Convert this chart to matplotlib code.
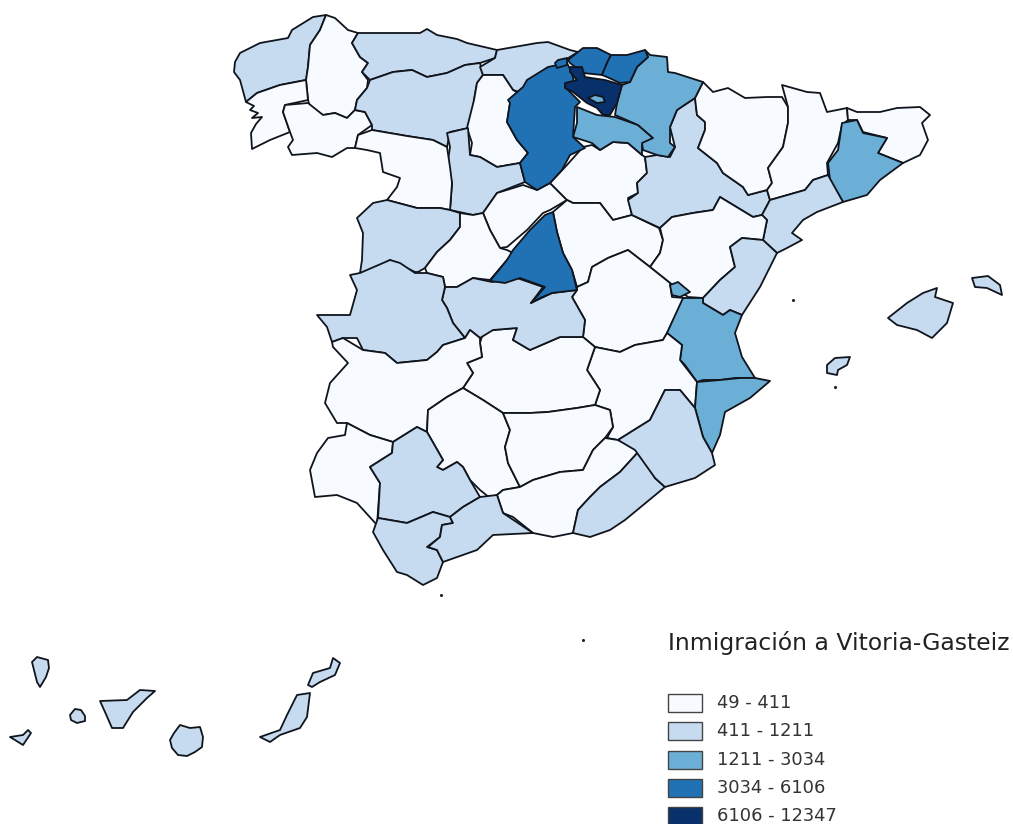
import matplotlib
matplotlib.use("Agg")
import matplotlib.pyplot as plt
from matplotlib.patches import Polygon, Rectangle

title = "Inmigración a Vitoria-Gasteiz"
bin_labels = ["49 - 411", "411 - 1211", "1211 - 3034", "3034 - 6106", "6106 - 12347"]
bin_colors = ["#f7fbff", "#c6dbef", "#6baed6", "#2171b5", "#08306b"]

# Province outlines (pixel coordinates), with their class
coruna = [(235,62),(240,53),(260,43),(288,38),(292,30),(313,17),(326,15),(320,30),(310,45),(308,67),(306,80),(280,85),(257,93),(246,102),(240,80),(234,72)]
lugo = [(326,15),(335,18),(348,30),(358,33),(352,43),(360,57),(368,63),(362,72),(368,80),(367,88),(357,100),(355,110),(347,118),(335,113),(323,115),(310,107),(308,100),(306,80),(308,67),(310,45),(320,30)]
pontevedra = [(306,80),(308,100),(285,105),(283,112),(290,132),(270,140),(252,149),(251,133),(256,124),(262,117),(252,118),(258,113),(250,110),(254,106),(246,102),(257,93),(280,85)]
ourense = [(285,105),(308,103),(323,115),(335,113),(347,118),(355,110),(365,112),(372,125),(358,135),(355,148),(347,148),(332,157),(317,153),(292,155),(288,147),(293,140),(290,132),(283,112)]
asturias = [(358,33),(393,33),(420,33),(427,29),(437,35),(457,39),(467,43),(497,50),(495,58),(480,63),(465,65),(447,73),(427,77),(412,70),(393,72),(370,80),(362,72),(368,63),(360,57),(352,43)]
leon = [(370,80),(393,72),(412,70),(427,77),(447,73),(465,65),(480,63),(483,75),(477,83),(474,100),(473,112),(469,128),(450,132),(447,147),(433,140),(407,136),(372,130),(372,125),(365,112),(355,110),(357,100),(367,88)]
cantabria = [(497,50),(537,43),(548,42),(570,50),(578,52),(557,65),(557,68),(528,80),(535,85),(522,93),(513,90),(503,75),(483,75),(480,67),(495,58)]
palencia = [(483,75),(503,75),(513,90),(522,95),(510,103),(507,122),(517,140),(528,153),(520,163),(497,167),(480,157),(470,155),(472,143),(467,128),(474,100),(477,83)]
burgos = [(508,100),(523,87),(527,80),(548,67),(567,63),(572,73),(575,87),(565,87),(580,102),(575,107),(573,137),(585,148),(570,155),(562,170),(550,183),(537,190),(525,182),(520,163),(528,153),(517,140),(507,122),(510,103)]
burgos_enclave = [(555,63),(558,60),(567,58),(567,65),(557,68)]
vizcaya = [(568,60),(583,48),(597,48),(611,55),(607,63),(602,75),(583,73),(570,63)]
gipuzkoa = [(611,55),(627,55),(645,50),(648,57),(637,67),(630,82),(620,83),(607,77),(602,75),(607,63)]
navarra = [(645,50),(650,55),(667,57),(668,72),(675,73),(703,82),(695,98),(677,110),(670,127),(670,143),(675,147),(668,157),(657,155),(643,150),(642,143),(653,138),(638,125),(615,115),(617,103),(622,85),(630,82),(637,67),(648,57)]
rioja = [(577,107),(597,115),(615,117),(638,125),(653,138),(642,145),(642,155),(628,143),(613,142),(600,150),(592,143),(573,137),(577,123)]
alava = [(570,67),(582,67),(585,77),(605,80),(622,85),(617,103),(610,115),(603,115),(597,108),(587,103),(573,92),(565,88),(565,83),(577,80),(570,72)]
trevino = [(588,98),(595,95),(603,97),(605,102),(597,103)]
soria = [(567,165),(583,147),(592,145),(600,150),(613,142),(628,143),(642,155),(645,157),(647,173),(637,183),(638,193),(628,198),(632,215),(613,220),(600,203),(585,203),(573,203),(567,200),(550,183)]
segovia = [(483,213),(497,193),(523,185),(537,190),(550,183),(567,200),(550,210),(543,213),(527,230),(507,247),(500,248),(490,230)]
valladolid = [(450,147),(447,133),(468,128),(470,155),(480,157),(497,167),(520,163),(525,182),(497,193),(483,213),(473,215),(450,210),(452,183),(447,167)]
zamora = [(358,135),(372,130),(407,136),(433,140),(447,147),(450,167),(452,183),(450,210),(440,208),(417,208),(387,200),(397,187),(400,178),(383,172),(380,153),(367,150),(355,148)]
salamanca = [(387,200),(373,203),(357,218),(363,233),(362,260),(360,273),(375,270),(390,260),(400,265),(415,272),(418,272),(425,268),(437,252),(450,240),(460,227),(460,213),(450,210),(440,208),(417,208)]
avila = [(460,213),(473,215),(483,213),(490,230),(500,248),(507,250),(513,253),(507,260),(490,280),(473,278),(457,287),(445,287),(443,277),(427,273),(425,268),(437,252),(450,240),(460,227)]
guadalajara = [(573,203),(585,203),(600,203),(613,220),(632,215),(659,228),(663,240),(660,253),(650,267),(628,250),(608,258),(592,267),(588,282),(577,287),(572,270),(563,253),(557,232),(553,212),(567,200)]
zaragoza = [(645,157),(657,155),(670,157),(675,147),(670,127),(677,110),(695,98),(697,115),(705,122),(705,130),(698,148),(717,163),(723,173),(743,187),(748,195),(767,190),(770,200),(762,215),(753,217),(720,197),(713,210),(693,213),(672,217),(660,228),(632,215),(628,200),(638,193),(637,183),(647,173)]
huesca = [(703,82),(713,92),(728,88),(745,98),(767,97),(782,97),(788,107),(788,123),(783,147),(768,168),(772,183),(767,190),(748,195),(743,187),(723,173),(717,163),(698,148),(705,130),(705,122),(697,115),(695,98)]
lleida = [(782,85),(807,92),(820,93),(827,112),(847,108),(848,120),(842,125),(838,143),(827,163),(828,175),(813,180),(805,190),(770,200),(767,190),(772,183),(768,168),(783,147),(788,123),(788,107)]
girona = [(847,108),(857,112),(880,112),(897,108),(920,107),(930,115),(922,123),(928,140),(920,155),(903,163),(878,153),(887,138),(863,132),(857,120),(848,120)]
barcelona = [(842,123),(857,120),(863,133),(887,138),(878,153),(903,163),(880,180),(867,195),(843,202),(830,180),(828,163),(838,150)]
tarragona = [(828,175),(843,202),(817,212),(803,220),(792,233),(802,240),(787,248),(777,253),(763,240),(767,220),(762,215),(770,200),(805,190),(813,180)]
teruel = [(660,228),(672,217),(693,213),(713,210),(720,197),(753,217),(762,215),(767,220),(763,240),(742,238),(730,247),(735,267),(720,280),(703,298),(688,297),(670,283),(650,267),(660,253),(663,240)]
castellon = [(742,238),(763,240),(777,253),(760,287),(742,315),(730,310),(723,315),(703,303),(703,298),(720,280),(735,267),(730,247)]
cuenca = [(592,267),(608,258),(628,250),(650,267),(670,283),(672,297),(685,298),(683,300),(667,333),(663,340),(635,345),(620,352),(595,347),(583,337),(585,320),(572,297),(577,290),(577,287),(588,282)]
ademuz = [(670,285),(678,282),(690,292),(680,297),(672,295)]
valencia = [(683,298),(703,298),(703,303),(723,315),(730,310),(742,315),(735,333),(742,357),(755,378),(735,378),(720,380),(703,380),(697,382),(685,365),(680,360),(682,345),(667,333)]
alicante = [(697,382),(720,380),(740,378),(755,378),(770,381),(750,398),(725,412),(720,435),(712,453),(703,437),(695,408)]
albacete = [(595,347),(620,352),(635,345),(663,340),(667,333),(682,345),(680,360),(697,382),(695,408),(680,390),(665,390),(650,420),(618,440),(607,438),(613,427),(610,410),(595,405),(600,390),(587,370)]
ciudad_real = [(483,333),(493,330),(517,328),(513,340),(530,350),(560,337),(583,337),(595,347),(587,370),(600,390),(595,405),(577,408),(548,412),(530,413),(503,413),(483,400),(463,388),(473,373),(467,363),(482,357),(480,343)]
toledo = [(445,287),(457,287),(473,278),(492,282),(517,278),(543,287),(531,303),(552,293),(577,290),(572,297),(585,320),(583,337),(560,337),(530,350),(513,340),(517,328),(493,330),(480,338),(470,330),(465,338),(453,323),(447,308),(442,300)]
madrid = [(490,281),(507,260),(513,250),(530,230),(545,215),(553,212),(557,232),(563,253),(572,270),(577,290),(552,293),(540,298),(531,303),(545,287),(520,278),(505,283)]
caceres = [(350,275),(360,273),(390,260),(400,263),(415,273),(427,273),(443,277),(445,287),(442,300),(447,308),(453,323),(465,338),(443,345),(437,352),(427,360),(397,363),(385,353),(363,350),(357,338),(343,338),(332,342),(327,327),(317,315),(350,315),(357,290)]
badajoz = [(332,342),(343,338),(363,350),(385,353),(397,363),(427,360),(437,352),(443,345),(465,338),(470,330),(480,338),(480,343),(482,357),(467,363),(473,373),(463,388),(447,397),(428,410),(427,432),(417,427),(393,442),(370,435),(347,423),(337,423),(325,403),(330,383),(348,363),(333,347)]
cordoba = [(428,410),(447,397),(463,388),(483,400),(503,413),(510,430),(505,447),(508,463),(520,487),(503,490),(497,495),(490,498),(480,490),(470,480),(463,467),(457,462),(443,470),(437,467),(443,460),(427,432)]
jaen = [(503,413),(530,413),(548,412),(577,408),(595,405),(610,410),(613,427),(605,438),(593,450),(583,470),(560,472),(533,480),(520,487),(508,463),(505,447),(510,430)]
granada = [(520,487),(533,480),(560,472),(583,470),(593,450),(605,438),(618,440),(640,450),(620,472),(600,487),(590,497),(578,510),(573,533),(553,537),(533,533),(513,517),(503,513),(497,495),(503,490)]
almeria = [(573,533),(578,510),(590,497),(600,487),(620,472),(640,450),(655,478),(665,487),(625,520),(610,530),(590,537)]
murcia = [(618,440),(650,420),(665,390),(680,390),(695,408),(703,437),(712,453),(715,465),(695,478),(665,487),(655,478),(635,450)]
huelva = [(347,423),(345,435),(328,438),(317,453),(310,470),(315,497),(337,495),(357,503),(377,525),(380,483),(370,467),(392,453),(393,442),(370,435)]
sevilla = [(393,442),(417,427),(427,432),(443,460),(437,467),(443,470),(457,462),(463,467),(470,480),(480,497),(463,507),(450,517),(433,512),(407,523),(378,518),(380,483),(370,467),(392,453)]
cadiz = [(378,518),(407,523),(433,512),(450,517),(453,523),(442,525),(440,537),(427,547),(437,550),(443,562),(437,578),(423,585),(407,575),(397,572),(383,550),(373,532)]
malaga = [(450,517),(463,507),(480,497),(497,495),(503,513),(533,533),(493,535),(477,550),(443,562),(437,550),(428,547),(440,537),(442,525),(453,523)]
mallorca = [(888,318),(907,303),(923,293),(937,288),(935,297),(953,303),(947,323),(932,338),(917,330),(897,325)]
menorca = [(972,278),(988,276),(1000,285),(1002,295),(987,288),(975,287)]
ibiza = [(827,365),(835,358),(850,357),(847,365),(838,370),(837,375),(827,373)]
la_palma = [(32,662),(37,657),(48,660),(49,668),(46,677),(40,687),(37,682)]
hierro = [(10,737),(23,735),(28,730),(31,733),(23,745),(15,740)]
gomera = [(70,715),(75,709),(81,710),(85,716),(85,721),(77,723),(71,720)]
tenerife = [(100,701),(127,700),(140,690),(155,691),(147,698),(133,712),(123,728),(112,728),(105,712)]
gran_canaria = [(170,740),(174,733),(180,725),(190,728),(200,727),(203,737),(202,747),(195,752),(187,756),(178,755),(172,748)]
fuerteventura = [(260,737),(280,730),(287,715),(297,695),(310,693),(307,717),(300,728),(280,735),(270,742)]
lanzarote = [(308,685),(313,673),(330,668),(333,658),(340,663),(335,675),(320,682),(312,687)]

provinces = [
    (coruna,1),(lugo,0),(pontevedra,0),(ourense,0),(asturias,1),(leon,1),(cantabria,1),
    (palencia,0),(valladolid,1),(zamora,0),(salamanca,1),(segovia,0),(avila,0),(soria,0),
    (guadalajara,0),(zaragoza,1),(huesca,0),(lleida,0),(girona,0),(barcelona,2),(tarragona,1),
    (teruel,0),(castellon,1),(cuenca,0),(ademuz,2),(valencia,2),(albacete,0),(alicante,2),
    (ciudad_real,0),(toledo,1),(madrid,3),(caceres,1),(badajoz,0),(cordoba,0),(jaen,0),
    (granada,0),(almeria,1),(murcia,1),(huelva,0),(sevilla,1),(cadiz,1),(malaga,1),
    (rioja,2),(navarra,2),(burgos,3),(burgos_enclave,3),(vizcaya,3),(gipuzkoa,3),(alava,4),(trevino,2),
    (mallorca,1),(menorca,1),(ibiza,1),
    (la_palma,1),(hierro,1),(gomera,1),(tenerife,1),(gran_canaria,1),(fuerteventura,1),(lanzarote,1),
]
specks_x = [583, 441, 793, 835]
specks_y = [640, 595, 300, 387]

fig = plt.figure(figsize=(10.13, 8.24), dpi=100)
ax = fig.add_axes([0, 0, 1, 1])
ax.set_xlim(0, 1013)
ax.set_ylim(824, 0)
ax.axis("off")

for shape, cls in provinces:
    ax.add_patch(Polygon(shape, closed=True, facecolor=bin_colors[cls],
                         edgecolor="#10141c", linewidth=1.3, joinstyle="round"))
ax.scatter(specks_x, specks_y, s=5, color="#222222", linewidths=0)

ax.text(668, 643, title, fontsize=16.9, color="#222222", family="DejaVu Sans",
        ha="left", va="center")
for i, (lab, col) in enumerate(zip(bin_labels, bin_colors)):
    yc = 703 + i * 28.3
    ax.add_patch(Rectangle((668, yc - 9), 34, 18, facecolor=col,
                           edgecolor="#444444", linewidth=1.0))
    ax.text(717, yc, lab, fontsize=12.9, color="#333333", family="DejaVu Sans",
            ha="left", va="center")

fig.savefig("out.png", dpi=100)
